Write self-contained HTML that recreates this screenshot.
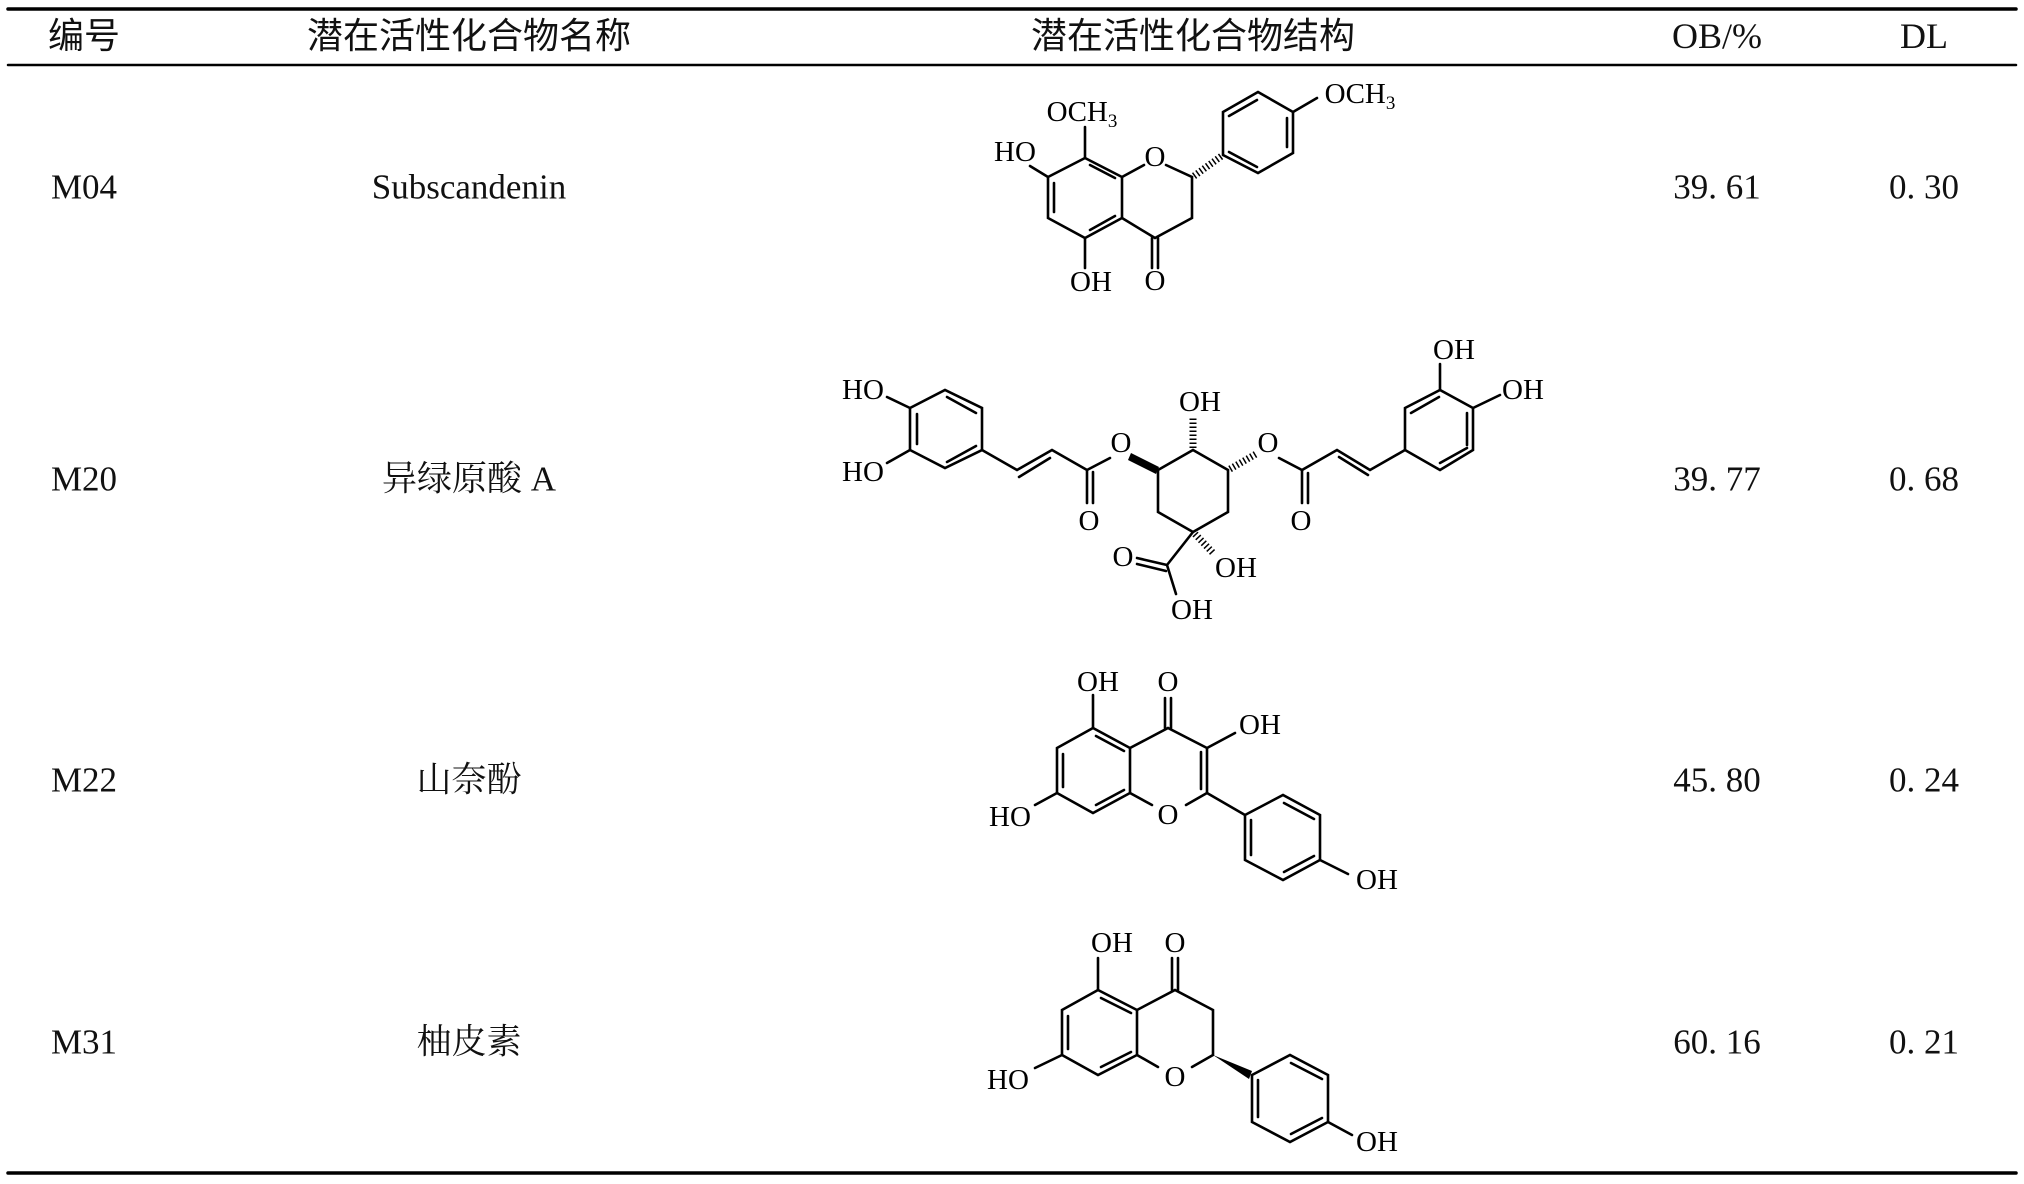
<!DOCTYPE html>
<html><head><meta charset="utf-8"><style>
html,body{margin:0;padding:0;background:#fff;}
svg{display:block}
.t{font-family:"Liberation Serif","Noto Serif CJK SC",serif;font-size:35px;fill:#111;text-anchor:middle;dominant-baseline:central}
.h{font-family:"Liberation Serif","Noto Sans CJK SC",sans-serif;font-size:36px;fill:#111;text-anchor:middle;dominant-baseline:central}
.a{font-family:"Liberation Serif",serif;font-size:29px;fill:#000;text-anchor:middle;dominant-baseline:central}
.s{font-size:19px}
line,polyline{stroke:#000;stroke-width:2.6;fill:none;stroke-linecap:round}
.hs{stroke-width:7;stroke-dasharray:1.5 2.5;stroke-linecap:butt}
</style></head><body>
<svg width="2024" height="1184" viewBox="0 0 2024 1184" xmlns="http://www.w3.org/2000/svg">
<rect width="2024" height="1184" fill="#fff"/>
<line x1="8" y1="9" x2="2016" y2="9" style="stroke-width:3.5"/>
<line x1="8" y1="65" x2="2016" y2="65" style="stroke-width:2.5"/>
<line x1="8" y1="1173" x2="2016" y2="1173" style="stroke-width:3.5"/>

<text class="h" x="84" y="36">编号</text>
<text class="h" x="469" y="36">潜在活性化合物名称</text>
<text class="h" x="1193" y="36">潜在活性化合物结构</text>
<text class="h" x="1717" y="36">OB/%</text>
<text class="h" x="1924" y="36">DL</text>

<text class="t" x="84" y="187">M04</text>
<text class="t" x="469" y="187">Subscandenin</text>
<text class="t" x="1717" y="187">39. 61</text>
<text class="t" x="1924" y="187">0. 30</text>
<text class="t" x="84" y="479">M20</text>
<text class="t" x="469" y="479">异绿原酸 A</text>
<text class="t" x="1717" y="479">39. 77</text>
<text class="t" x="1924" y="479">0. 68</text>
<text class="t" x="84" y="780">M22</text>
<text class="t" x="469" y="780">山奈酚</text>
<text class="t" x="1717" y="780">45. 80</text>
<text class="t" x="1924" y="780">0. 24</text>
<text class="t" x="84" y="1042">M31</text>
<text class="t" x="469" y="1042">柚皮素</text>
<text class="t" x="1717" y="1042">60. 16</text>
<text class="t" x="1924" y="1042">0. 21</text>

<!-- M04 -->
<polyline points="1085,158 1048,177 1048,218 1085,238 1122,218 1122,177 1085,158"/>
<line x1="1054" y1="183" x2="1054" y2="212"/>
<line x1="1090" y1="230" x2="1115" y2="216"/>
<line x1="1090" y1="165" x2="1115" y2="178"/>
<polyline points="1122,177 1144,165"/>
<polyline points="1166,165 1192,177 1192,218 1155,238 1122,218"/>
<line x1="1152" y1="238" x2="1152" y2="268"/><line x1="1158" y1="238" x2="1158" y2="268"/>
<line x1="1085" y1="238" x2="1085" y2="268"/>
<line x1="1048" y1="177" x2="1030" y2="166"/>
<line x1="1085" y1="158" x2="1085" y2="127"/>
<line class="hs" x1="1194" y1="176" x2="1223" y2="155"/>
<polyline points="1223,155 1223,112 1258,92 1293,112 1293,153 1258,173 1223,155"/>
<line x1="1229" y1="116" x2="1257" y2="100"/>
<line x1="1287" y1="118" x2="1287" y2="147"/>
<line x1="1257" y1="167" x2="1229" y2="152"/>
<line x1="1293" y1="112" x2="1317" y2="98"/>
<text class="a" x="1155" y="157">O</text>
<text class="a" x="1155" y="281">O</text>
<text class="a" x="1091" y="282">OH</text>
<text class="a" x="1015" y="152">HO</text>
<text class="a" x="1082" y="112">OCH<tspan class="s" dy="9">3</tspan></text>
<text class="a" x="1360" y="94">OCH<tspan class="s" dy="9">3</tspan></text>

<!-- M20 -->
<polyline points="910,408 945,390 982,408 982,450 945,468 910,450 910,408"/>
<line x1="947" y1="397" x2="976" y2="413"/>
<line x1="917" y1="414" x2="917" y2="444"/>
<line x1="947" y1="462" x2="976" y2="446"/>
<line x1="910" y1="408" x2="887" y2="397"/>
<line x1="910" y1="450" x2="887" y2="463"/>
<polyline points="982,450 1017,470 1052,450 1087,470 1087,503"/>
<line x1="1019" y1="477" x2="1050" y2="458"/>
<line x1="1093" y1="472" x2="1093" y2="503"/>
<line x1="1087" y1="470" x2="1110" y2="458"/>
<polygon points="1131,453 1159,467 1156,474 1128,460" fill="#000"/>
<polyline points="1158,470 1193,450 1228,470 1228,512 1193,532 1158,512 1158,470"/>
<line class="hs" x1="1193" y1="448" x2="1193" y2="418"/>
<line class="hs" x1="1230" y1="469" x2="1256" y2="454"/>
<polyline points="1279,458 1302,470 1337,450 1370,470 1405,450"/>
<line x1="1302" y1="470" x2="1302" y2="503"/><line x1="1308" y1="473" x2="1308" y2="503"/>
<line x1="1339" y1="457" x2="1368" y2="475"/>
<polyline points="1405,450 1405,408 1440,390 1473,408 1473,450 1440,470 1405,450"/>
<line x1="1411" y1="413" x2="1439" y2="397"/>
<line x1="1467" y1="413" x2="1467" y2="445"/>
<line x1="1440" y1="463" x2="1467" y2="448"/>
<line x1="1440" y1="390" x2="1440" y2="364"/>
<line x1="1473" y1="408" x2="1500" y2="395"/>
<line x1="1193" y1="532" x2="1167" y2="565"/>
<line x1="1167" y1="565" x2="1137" y2="558"/><line x1="1166" y1="571" x2="1137" y2="564"/>
<line x1="1167" y1="565" x2="1176" y2="594"/>
<line class="hs" x1="1195" y1="534" x2="1214" y2="554"/>
<text class="a" x="863" y="390">HO</text>
<text class="a" x="863" y="472">HO</text>
<text class="a" x="1121" y="443">O</text>
<text class="a" x="1089" y="521">O</text>
<text class="a" x="1200" y="402">OH</text>
<text class="a" x="1268" y="443">O</text>
<text class="a" x="1301" y="521">O</text>
<text class="a" x="1454" y="350">OH</text>
<text class="a" x="1523" y="390">OH</text>
<text class="a" x="1123" y="557">O</text>
<text class="a" x="1236" y="568">OH</text>
<text class="a" x="1192" y="610">OH</text>

<!-- M22 -->
<polyline points="1093,728 1057,748 1057,793 1093,813 1130,793 1130,748 1093,728"/>
<line x1="1063" y1="754" x2="1063" y2="787"/>
<line x1="1096" y1="736" x2="1124" y2="751"/>
<line x1="1096" y1="805" x2="1124" y2="790"/>
<polyline points="1130,748 1168,728 1207,748 1207,793 1186,805"/>
<line x1="1130" y1="793" x2="1152" y2="805"/>
<line x1="1201" y1="752" x2="1201" y2="789"/>
<line x1="1165" y1="728" x2="1165" y2="698"/><line x1="1171" y1="728" x2="1171" y2="698"/>
<line x1="1093" y1="728" x2="1093" y2="695"/>
<line x1="1207" y1="748" x2="1235" y2="733"/>
<line x1="1057" y1="793" x2="1035" y2="805"/>
<line x1="1207" y1="793" x2="1245" y2="815"/>
<polyline points="1245,815 1283,795 1320,815 1320,860 1283,880 1245,860 1245,815"/>
<line x1="1284" y1="803" x2="1314" y2="819"/>
<line x1="1314" y1="856" x2="1284" y2="872"/>
<line x1="1251" y1="820" x2="1251" y2="855"/>
<line x1="1320" y1="860" x2="1348" y2="874"/>
<text class="a" x="1098" y="682">OH</text>
<text class="a" x="1168" y="682">O</text>
<text class="a" x="1260" y="725">OH</text>
<text class="a" x="1168" y="815">O</text>
<text class="a" x="1010" y="817">HO</text>
<text class="a" x="1377" y="880">OH</text>

<!-- M31 -->
<polyline points="1098,990 1062,1010 1062,1055 1098,1075 1137,1055 1137,1010 1098,990"/>
<line x1="1068" y1="1016" x2="1068" y2="1049"/>
<line x1="1101" y1="998" x2="1131" y2="1013"/>
<line x1="1101" y1="1067" x2="1131" y2="1052"/>
<polyline points="1137,1010 1175,990 1213,1010 1213,1055 1192,1067"/>
<line x1="1137" y1="1055" x2="1158" y2="1067"/>
<line x1="1172" y1="990" x2="1172" y2="958"/><line x1="1178" y1="990" x2="1178" y2="958"/>
<line x1="1098" y1="990" x2="1098" y2="958"/>
<line x1="1062" y1="1055" x2="1035" y2="1068"/>
<polygon points="1213,1055 1252,1071 1249,1079" fill="#000"/>
<polyline points="1252,1075 1290,1055 1328,1075 1328,1122 1290,1142 1252,1122 1252,1075"/>
<line x1="1291" y1="1063" x2="1322" y2="1079"/>
<line x1="1322" y1="1118" x2="1291" y2="1134"/>
<line x1="1258" y1="1080" x2="1258" y2="1117"/>
<line x1="1328" y1="1122" x2="1352" y2="1135"/>
<text class="a" x="1112" y="943">OH</text>
<text class="a" x="1175" y="943">O</text>
<text class="a" x="1175" y="1077">O</text>
<text class="a" x="1008" y="1080">HO</text>
<text class="a" x="1377" y="1142">OH</text>
</svg>
</body></html>
